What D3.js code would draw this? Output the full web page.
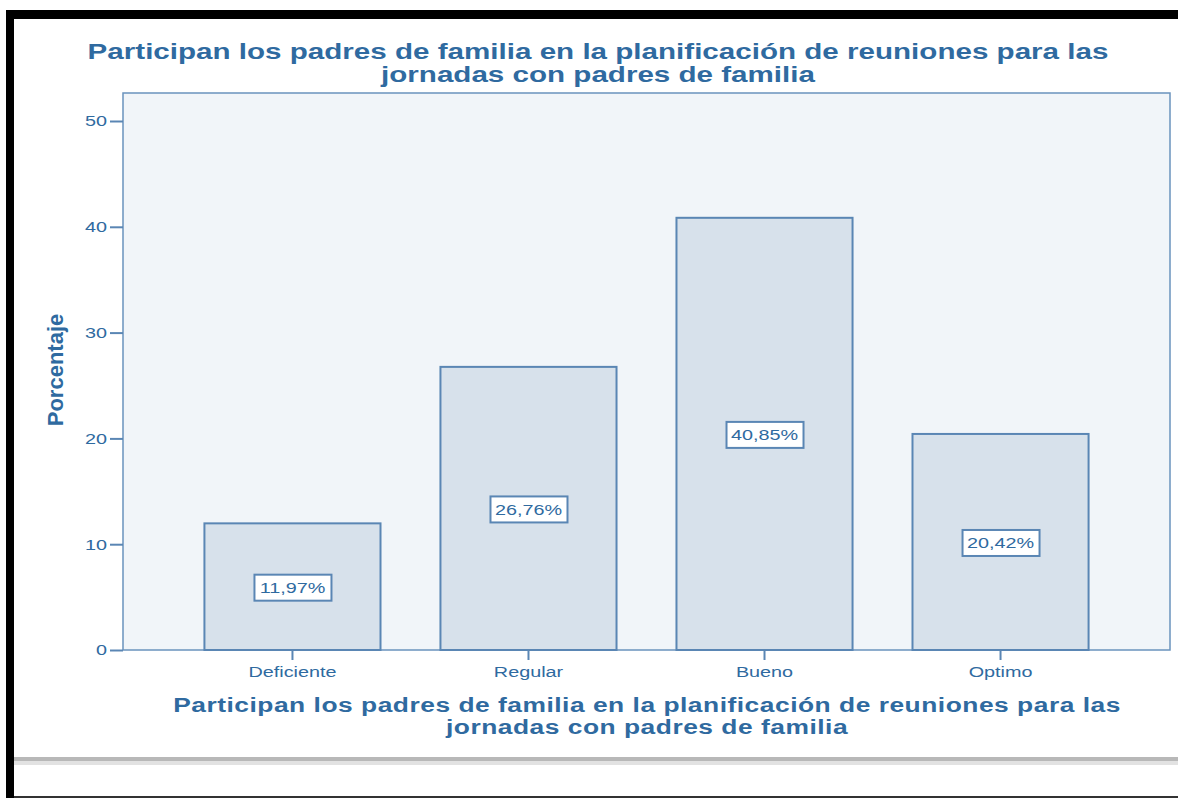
<!DOCTYPE html>
<html lang="es">
<head>
    <meta charset="UTF-8">
    <title>Participan los padres de familia</title>
    <script src="https://d3js.org/d3.v7.min.js"></script>
    <style>
        body { margin: 0; background: #fff; }
        svg { display: block; }
    </style>
</head>
<body>
<div id="chart"></div>
<script>
    const categories = ["Deficiente", "Regular", "Bueno", "Optimo"];
    const percentages = [11.97, 26.76, 40.85, 20.42];
    const percentLabels = ["11,97%", "26,76%", "40,85%", "20,42%"];
    const yTicks = [0, 10, 20, 30, 40, 50];
    const titleLines = ["Participan los padres de familia en la planificación de reuniones para las", "jornadas con padres de familia"];

    const W = 1178, H = 798;
    const blue = "#2f6aa0";
    const lineBlue = "#5a86b4";
    const SX = 1.32; // the original screenshot is stretched horizontally
    const plot = { left: 123, top: 93, right: 1170, bottom: 650 };

    const svg = d3.select("#chart").append("svg")
        .attr("width", W).attr("height", H);

    // frame around the screenshot
    svg.append("rect").attr("x", 6).attr("y", 10).attr("width", W - 6).attr("height", 9).attr("fill", "#000");
    svg.append("rect").attr("x", 6).attr("y", 10).attr("width", 8).attr("height", H - 10).attr("fill", "#000");
    svg.append("rect").attr("x", 14).attr("y", 757).attr("width", W - 14).attr("height", 4).attr("fill", "#b8b8b8");
    svg.append("rect").attr("x", 14).attr("y", 761).attr("width", W - 14).attr("height", 4).attr("fill", "#e2e2e2");
    svg.append("rect").attr("x", 14).attr("y", 796).attr("width", W - 14).attr("height", 2).attr("fill", "#333");

    const x = d3.scaleBand()
        .domain(categories)
        .range([plot.left, plot.right])
        .paddingInner(0.254)
        .paddingOuter(0.345);

    const y = d3.scaleLinear()
        .domain([0, 50])
        .range([plot.bottom, 121]);

    svg.append("rect")
        .attr("x", plot.left).attr("y", plot.top)
        .attr("width", plot.right - plot.left).attr("height", plot.bottom - plot.top)
        .attr("fill", "#f1f5f9").attr("stroke", "#6a93bd").attr("stroke-width", 1.5);

    svg.selectAll(".bar")
        .data(percentages)
        .enter().append("rect")
        .attr("class", "bar")
        .attr("x", (d, i) => x(categories[i]))
        .attr("y", d => y(d))
        .attr("width", x.bandwidth())
        .attr("height", d => y(0) - y(d))
        .attr("fill", "#d7e1eb")
        .attr("stroke", lineBlue)
        .attr("stroke-width", 2);

    // value labels
    const lab = svg.selectAll(".lab")
        .data(percentages)
        .enter().append("g")
        .attr("class", "lab")
        .attr("transform", (d, i) => `translate(${x(categories[i]) + x.bandwidth() / 2},${y(d / 2) + 1})`);
    lab.append("rect")
        .attr("x", -38).attr("y", -13).attr("width", 77).attr("height", 26)
        .attr("fill", "#fff").attr("stroke", lineBlue).attr("stroke-width", 2);
    lab.append("text")
        .attr("text-anchor", "middle").attr("dy", "0.36em")
        .attr("transform", `scale(${SX},1)`)
        .style("font-family", "Liberation Sans, Arial, sans-serif")
        .style("font-size", "15px").attr("fill", blue)
        .text((d, i) => percentLabels[i]);

    // y axis
    const yAxis = d3.axisLeft(y).tickValues(yTicks).tickSize(13).tickPadding(3);
    const gy = svg.append("g").attr("transform", `translate(${plot.left},0)`).call(yAxis);
    gy.select(".domain").remove();
    gy.selectAll("line").attr("stroke", lineBlue).attr("stroke-width", 2);
    gy.selectAll("text").attr("fill", blue)
        .attr("x", -16 / SX)
        .attr("transform", `scale(${SX},1)`)
        .style("font-family", "Liberation Sans, Arial, sans-serif").style("font-size", "15px");

    // x axis
    const xAxis = d3.axisBottom(x).tickSize(10).tickPadding(6);
    const gx = svg.append("g").attr("transform", `translate(0,${plot.bottom})`).call(xAxis);
    gx.select(".domain").remove();
    gx.selectAll("line").attr("stroke", lineBlue).attr("stroke-width", 2);
    gx.selectAll("text").attr("fill", blue)
        .attr("transform", `scale(${SX},1)`)
        .style("font-family", "Liberation Sans, Arial, sans-serif").style("font-size", "15px");

    // title
    svg.append("g")
        .attr("transform", `translate(598,0) scale(1.345,1)`)
        .append("text")
        .attr("text-anchor", "middle")
        .style("font-family", "Liberation Sans, Arial, sans-serif")
        .style("font-weight", "bold").style("font-size", "22px")
        .attr("fill", blue)
        .selectAll("tspan").data(titleLines).enter().append("tspan")
        .attr("x", 0).attr("y", (d, i) => 59 + i * 23)
        .text(d => d);

    // y axis title
    svg.append("text")
        .attr("transform", "translate(63,370) rotate(-90)")
        .attr("text-anchor", "middle")
        .style("font-family", "Liberation Sans, Arial, sans-serif")
        .style("font-weight", "bold").style("font-size", "22px")
        .attr("fill", blue)
        .text("Porcentaje");

    // x axis title
    svg.append("g")
        .attr("transform", `translate(647,0) scale(${SX},1)`)
        .append("text")
        .attr("text-anchor", "middle")
        .style("font-family", "Liberation Sans, Arial, sans-serif")
        .style("font-weight", "bold").style("font-size", "20px")
        .style("letter-spacing", "0.38px")
        .attr("fill", blue)
        .selectAll("tspan").data(titleLines).enter().append("tspan")
        .attr("x", 0).attr("y", (d, i) => 712 + i * 22)
        .text(d => d);
</script>
</body>
</html>
